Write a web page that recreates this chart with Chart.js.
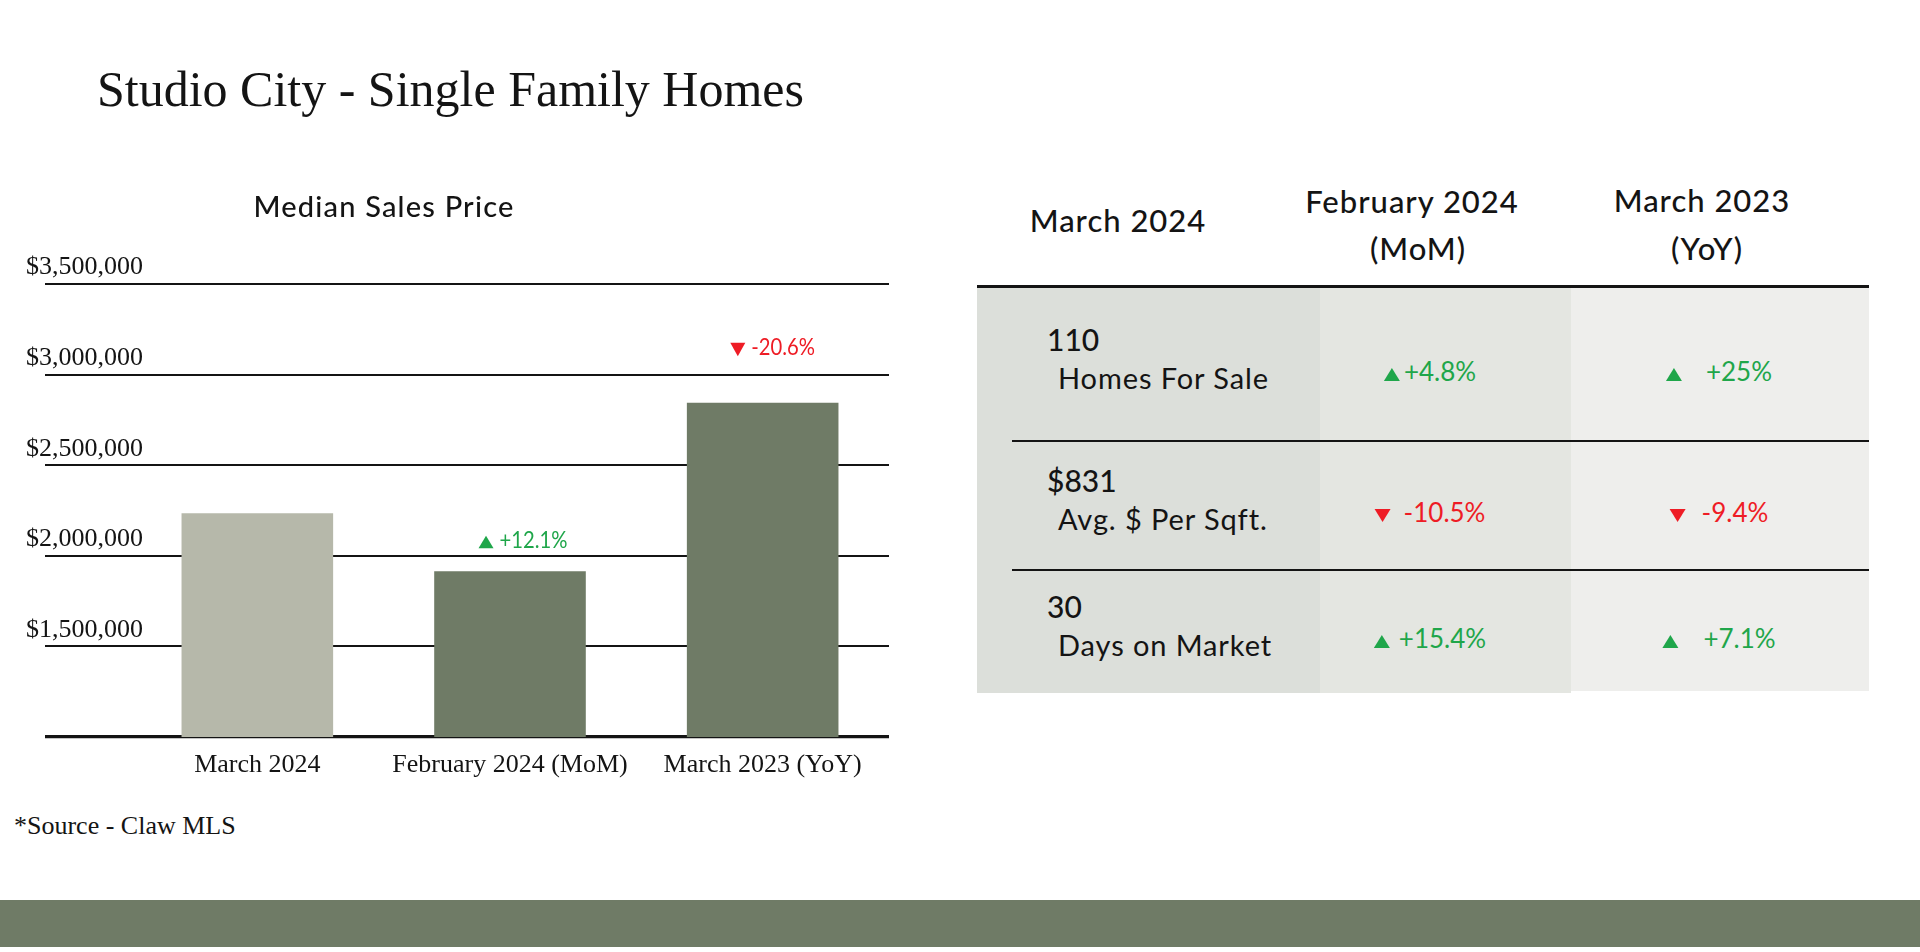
<!DOCTYPE html>
<html>
<head>
<meta charset="utf-8">
<script src="https://cdn.jsdelivr.net/npm/chart.js@4.4.1/dist/chart.umd.min.js"></script>
<style>
html,body{margin:0;padding:0;background:#fff;}
body{width:1920px;height:952px;position:relative;overflow:hidden;}
.t{position:absolute;white-space:nowrap;line-height:1;color:#141414;}
.serif{font-family:'Liberation Serif',serif;}
.sans{font-family:Lato,sans-serif;}
#chartWrap{position:absolute;left:0;top:0;width:940px;height:800px;}
.footer{position:absolute;left:0;top:900px;width:1920px;height:47px;background:#6f7b66;}
.bg{position:absolute;}
.rule{position:absolute;background:#141414;}
.tri{display:inline-block;width:0;height:0;border-left:8px solid transparent;border-right:8px solid transparent;}
.up{border-bottom:13px solid #1fa64a;}
.down{border-top:13px solid #ee1c25;}
</style>
</head>
<body>
<div id="chartWrap"><canvas id="c" width="940" height="800"></canvas></div>
<div class="footer"></div>
<script>
// ---------- data ----------
const categories = ['March 2024', 'February 2024 (MoM)', 'March 2023 (YoY)'];
const medianPrice = [2235000, 1915000, 2845000];
const yTicks = [1000000, 1500000, 2000000, 2500000, 3000000, 3500000];
const yTickLabels = ['', '$1,500,000', '$2,000,000', '$2,500,000', '$3,000,000', '$3,500,000'];
const priceChange = ['', '+12.1%', '-20.6%'];
const priceChangeDir = [0, 1, -1];

const tableHeaders = [['March 2024'], ['February 2024', '(MoM)'], ['March 2023', '(YoY)']];
const metricValues = ['110', '$831', '30'];
const metricNames = ['Homes For Sale', 'Avg. $ Per Sqft.', 'Days on Market'];
const momChange = ['+4.8%', '-10.5%', '+15.4%'];
const momDir = [1, -1, 1];
const yoyChange = ['+25%', '-9.4%', '+7.1%'];
const yoyDir = [1, -1, 1];

// ---------- styles ----------
const barColors = ['#b6b8aa', '#6f7b66', '#6f7b66'];
const annotRise = [0, 23, 48];
const annotShift = [0, 13, 10];
const GREEN = '#1fa64a', RED = '#ee1c25', INK = '#141414';

// ---------- html text helpers ----------
const K = {serif: 0.8375, sans: 0.887};
function text(str, fam, size, x, baseline, opts) {
  opts = opts || {};
  const d = document.createElement('div');
  d.className = 't ' + fam;
  d.textContent = str;
  d.style.fontSize = size + 'px';
  d.style.top = (baseline - K[fam] * size) + 'px';
  d.style.left = x + 'px';
  if (opts.weight) d.style.fontWeight = opts.weight;
  if (opts.ls) d.style.letterSpacing = opts.ls + 'px';
  if (opts.color) d.style.color = opts.color;
  if (opts.center) d.style.transform = 'translateX(-50%)';
  document.body.appendChild(d);
  return d;
}
function box(cls, x, y, w, h, color) {
  const d = document.createElement('div');
  d.className = cls;
  d.style.left = x + 'px'; d.style.top = y + 'px';
  d.style.width = w + 'px'; d.style.height = h + 'px';
  d.style.background = color;
  document.body.appendChild(d);
}

// title
text('Studio City - Single Family Homes', 'serif', 50, 97, 106);
text('Median Sales Price', 'sans', 29, 384, 217, {weight: 500, ls: 1.2, center: true});
text('*Source - Claw MLS', 'serif', 26, 14, 835);

// ---------- table ----------
const colX = [977, 1320, 1571, 1869];
const colBg = ['#dcdfda', '#e4e6e1', '#eeeeec'];
const rowY = [288, 441, 570, 693];
for (let c = 0; c < 3; c++) box('bg', colX[c], rowY[0], colX[c+1] - colX[c], (c === 2 ? 691 : 693) - rowY[0], colBg[c]);
box('rule', 977, 285, 892, 2.5, INK);
box('rule', 1012, 440, 857, 2, INK);
box('rule', 1012, 569, 857, 2, INK);

// headers
text(tableHeaders[0][0], 'sans', 31, 1118, 232, {weight: 500, ls: 1, center: true});
text(tableHeaders[1][0], 'sans', 31, 1412, 213, {weight: 500, ls: 1, center: true});
text(tableHeaders[1][1], 'sans', 31, 1418, 260, {weight: 500, ls: 1, center: true});
text(tableHeaders[2][0], 'sans', 31, 1702, 212, {weight: 500, ls: 1, center: true});
text(tableHeaders[2][1], 'sans', 31, 1707, 260, {weight: 500, ls: 1, center: true});

const momGap = [4, 13, 9], yoyGap = [24, 16, 25];
function changeCell(str, dir, cx, baseline, gap) {
  const d = document.createElement('div');
  d.className = 't sans';
  d.style.fontSize = '26px';
  d.style.top = (baseline - K.sans * 26) + 'px';
  d.style.left = cx + 'px';
  d.style.transform = 'translateX(-50%)';
  d.style.color = dir > 0 ? GREEN : RED;
  const tri = document.createElement('span');
  tri.className = 'tri ' + (dir > 0 ? 'up' : 'down');
  tri.style.marginRight = gap + 'px';
  d.appendChild(tri);
  d.appendChild(document.createTextNode(str));
  document.body.appendChild(d);
}
for (let r = 0; r < 3; r++) {
  const cy = (rowY[r] + rowY[r+1]) / 2;
  text(metricValues[r], 'sans', 30, 1047, cy - 14, {weight: 500});
  text(metricNames[r], 'sans', 29, 1058, cy + 24.5, {ls: 0.9});
  changeCell(momChange[r], momDir[r], 1430, cy + 17, momGap[r]);
  changeCell(yoyChange[r], yoyDir[r], 1719, cy + 17, yoyGap[r]);
}

// ---------- chart ----------
const changeLabelPlugin = {
  id: 'changeLabels',
  afterDatasetsDraw(chart) {
    const ctx = chart.ctx;
    const meta = chart.getDatasetMeta(0);
    const sx = 0.88;
    ctx.save();
    ctx.font = '400 23px Lato';
    ctx.textBaseline = 'alphabetic';
    ctx.textAlign = 'left';
    meta.data.forEach((bar, i) => {
      if (!priceChange[i]) return;
      const up = priceChangeDir[i] > 0;
      const col = up ? GREEN : RED;
      const tw = ctx.measureText(priceChange[i]).width * sx;
      const triW = 15, triH = 12.5, gap = 6;
      const total = triW + gap + tw;
      const left = bar.x + annotShift[i] - total / 2;
      const base = bar.y - annotRise[i];
      ctx.fillStyle = col;
      ctx.beginPath();
      if (up) {
        ctx.moveTo(left, base); ctx.lineTo(left + triW, base); ctx.lineTo(left + triW / 2, base - triH);
      } else {
        ctx.moveTo(left, base - 12); ctx.lineTo(left + triW, base - 12); ctx.lineTo(left + triW / 2, base + 1.5);
      }
      ctx.closePath();
      ctx.fill();
      ctx.save();
      ctx.translate(left + triW + gap, base);
      ctx.scale(sx, 1);
      ctx.fillText(priceChange[i], 0, 0);
      ctx.restore();
    });
    ctx.restore();
  }
};

const Y_AXIS_LEFT = 26, Y_AXIS_WIDTH = 105;
new Chart(document.getElementById('c'), {
  type: 'bar',
  data: {
    labels: categories,
    datasets: [{
      data: medianPrice,
      backgroundColor: barColors,
      borderWidth: 0,
      barPercentage: 0.6,
      categoryPercentage: 1.0
    }]
  },
  options: {
    responsive: false,
    animation: false,
    events: [],
    layout: {padding: {left: Y_AXIS_LEFT, top: 284, right: 51, bottom: 13}},
    plugins: {legend: {display: false}, tooltip: {enabled: false}, title: {display: false}},
    scales: {
      x: {
        grid: {display: false, drawTicks: false},
        border: {display: false},
        ticks: {font: {family: 'Liberation Serif', size: 26}, color: INK, padding: 13},
        afterFit: s => { s.height = 50; }
      },
      y: {
        min: yTicks[0],
        max: yTicks[yTicks.length - 1],
        afterBuildTicks: s => { s.ticks = yTicks.map(v => ({value: v})); },
        grid: {
          color: INK,
          lineWidth: c => (c.tick && c.tick.value === yTicks[0]) ? 3.2 : 2,
          tickLength: 86,
          drawTicks: true
        },
        border: {display: false},
        ticks: {
          mirror: true,
          crossAlign: 'near',
          labelOffset: -16.5,
          padding: -Y_AXIS_WIDTH,
          font: {family: 'Liberation Serif', size: 26},
          color: INK,
          callback: (v, i) => yTickLabels[i]
        },
        afterFit: s => { s.width = Y_AXIS_WIDTH; }
      }
    }
  },
  plugins: [changeLabelPlugin]
});
</script>
</body>
</html>
